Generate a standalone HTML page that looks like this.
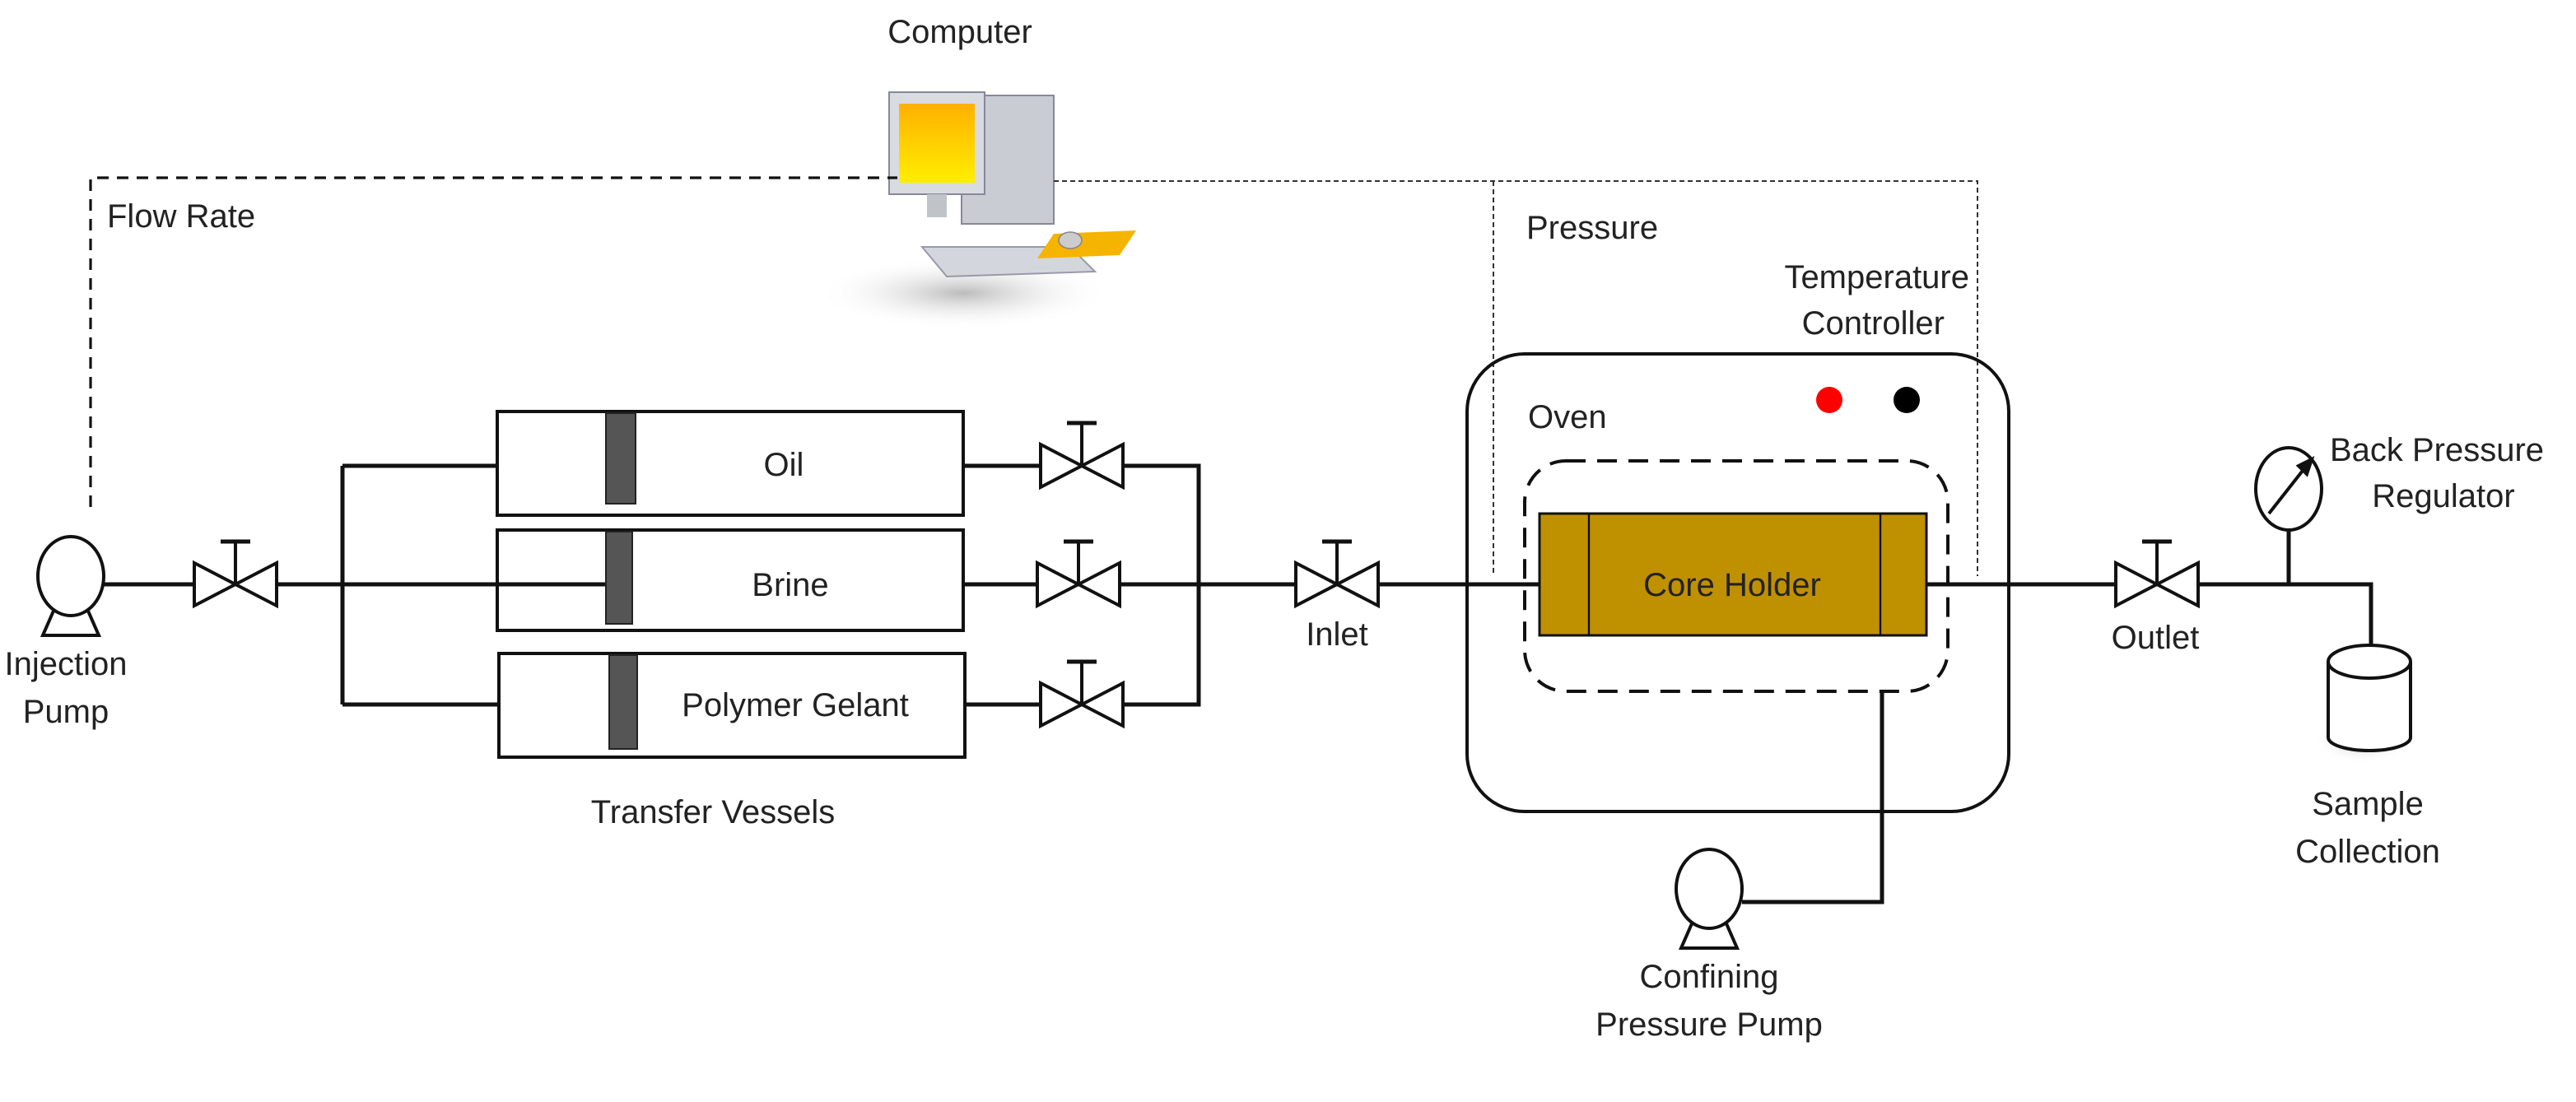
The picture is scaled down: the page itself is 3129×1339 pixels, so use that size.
<!DOCTYPE html>
<html><head><meta charset="utf-8"><style>
html,body{margin:0;padding:0;background:#fff;}
svg{display:block;}
text{font-family:"Liberation Sans",sans-serif;font-size:20px;fill:#222;}
</style></head><body>
<svg width="3129" height="1339" viewBox="0 0 1564.5 669.5" xmlns="http://www.w3.org/2000/svg">
<defs>
<radialGradient id="sh" cx="50%" cy="50%" r="50%"><stop offset="0" stop-color="#bbb"/><stop offset="1" stop-color="#fff" stop-opacity="0"/></radialGradient>
<linearGradient id="scr" x1="0" y1="0" x2="0" y2="1"><stop offset="0" stop-color="#ffb000"/><stop offset="1" stop-color="#ffee00"/></linearGradient>
<g id="valve"><path d="M-25,-13 L25,13 L25,-13 L-25,13 Z" fill="#fff" stroke="#111" stroke-width="2"/><line x1="0" y1="0" x2="0" y2="-26" stroke="#111" stroke-width="2"/><line x1="-9" y1="-26" x2="9" y2="-26" stroke="#111" stroke-width="2.5"/></g>
<g id="pump"><path d="M-17,36 L-10,20 L10,20 L17,36 Z" fill="#fff" stroke="#111" stroke-width="2"/><ellipse cx="0" cy="0" rx="20" ry="24" fill="#fff" stroke="#111" stroke-width="2"/></g>
</defs>

<ellipse cx="585" cy="178" rx="90" ry="22" fill="url(#sh)"/>
<rect x="584" y="58" width="56" height="78" fill="#c9ccd3" stroke="#889" stroke-width="1"/>
<rect x="540" y="56" width="58" height="62" fill="#d8dbe0" stroke="#889" stroke-width="1"/>
<rect x="546" y="63" width="46" height="48" fill="url(#scr)"/>
<rect x="563" y="118" width="12" height="14" fill="#c0c3c8"/>
<path d="M560,150 L650,150 L665,165 L575,168 Z" fill="#d3d6dc" stroke="#99a" stroke-width="1"/>
<path d="M640,142 L690,140 L680,155 L630,157 Z" fill="#f5b400"/>
<ellipse cx="650" cy="146" rx="7" ry="5" fill="#ccc" stroke="#888" stroke-width="0.8"/>
<text x="583" y="26" text-anchor="middle">Computer</text>

<path d="M55,308 L55,108 L545,108" fill="none" stroke="#111" stroke-width="1.6" stroke-dasharray="7,5"/>
<path d="M640,110 L1201,110 L1201,350 M907,110 L907,350" fill="none" stroke="#333" stroke-width="1" stroke-dasharray="3,2"/>
<text x="65" y="138">Flow Rate</text>
<text x="927" y="145">Pressure</text>
<text x="1196" y="175" text-anchor="end">Temperature</text>
<text x="1181" y="203" text-anchor="end">Controller</text>

<rect x="891" y="215" width="329" height="278" rx="35" fill="none" stroke="#111" stroke-width="2"/>
<circle cx="1111" cy="243" r="8" fill="#f00"/><circle cx="1158" cy="243" r="8" fill="#000"/>
<text x="928" y="260">Oven</text>

<path d="M63,355 L1440,355 L1440,392" fill="none" stroke="#111" stroke-width="2.5"/>
<path d="M1390,322 L1390,355" stroke="#111" stroke-width="2.5"/>
<rect x="926" y="280" width="257" height="140" rx="25" fill="none" stroke="#111" stroke-width="2" stroke-dasharray="12,7"/>
<rect x="935" y="312" width="235" height="74" fill="#bf9000" stroke="#111" stroke-width="1.5"/>
<line x1="965" y1="312" x2="965" y2="386" stroke="#111" stroke-width="1.2"/>
<line x1="1142" y1="312" x2="1142" y2="386" stroke="#111" stroke-width="1.2"/>
<text x="1052" y="362" text-anchor="middle">Core Holder</text>

<path d="M1143,420 L1143,548 L1058,548" fill="none" stroke="#111" stroke-width="2.5"/>
<use href="#pump" x="1038" y="540"/>
<text x="1038" y="600" text-anchor="middle">Confining</text>
<text x="1038" y="629" text-anchor="middle">Pressure Pump</text>

<path d="M208,283 L208,428 M208,283 L370,283 M208,428 L372,428 M585,283 L728,283 L728,428 L586,428 M585,355 L728,355" fill="none" stroke="#111" stroke-width="2.5"/>
<rect x="302" y="250" width="283" height="63" fill="#fff" stroke="#111" stroke-width="2"/>
<rect x="302" y="322" width="283" height="61" fill="#fff" stroke="#111" stroke-width="2"/>
<rect x="303" y="397" width="283" height="63" fill="#fff" stroke="#111" stroke-width="2"/>
<path d="M208,355 L370,355" stroke="#111" stroke-width="2.5"/>
<rect x="368" y="251" width="18" height="55" fill="#555" stroke="#222" stroke-width="1"/>
<rect x="368" y="323" width="16" height="56" fill="#555" stroke="#222" stroke-width="1"/>
<rect x="370" y="398" width="17" height="57" fill="#555" stroke="#222" stroke-width="1"/>
<text x="476" y="289" text-anchor="middle">Oil</text>
<text x="480" y="362" text-anchor="middle">Brine</text>
<text x="483" y="435" text-anchor="middle">Polymer Gelant</text>
<text x="433" y="500" text-anchor="middle">Transfer Vessels</text>

<use href="#valve" x="657" y="283"/>
<use href="#valve" x="655" y="355"/>
<use href="#valve" x="657" y="428"/>
<use href="#valve" x="143" y="355"/>
<use href="#valve" x="812" y="355"/>
<use href="#valve" x="1310" y="355"/>
<text x="812" y="392" text-anchor="middle">Inlet</text>
<text x="1309" y="394" text-anchor="middle">Outlet</text>

<use href="#pump" x="43" y="350"/>
<text x="40" y="410" text-anchor="middle">Injection</text>
<text x="40" y="439" text-anchor="middle">Pump</text>

<ellipse cx="1390" cy="297" rx="20" ry="25" fill="#fff" stroke="#111" stroke-width="2"/>
<line x1="1378" y1="312" x2="1400" y2="284" stroke="#111" stroke-width="2"/>
<path d="M1404,279 L1396,283 L1401,288 Z" fill="#111" stroke="#111" stroke-width="2"/>
<text x="1480" y="280" text-anchor="middle">Back  Pressure</text>
<text x="1484" y="308" text-anchor="middle">Regulator</text>

<ellipse cx="1435" cy="450" rx="30" ry="14" fill="url(#sh)"/>
<path d="M1414,402 L1414,448 A25,8 0 0 0 1464,448 L1464,402" fill="#fff" stroke="#111" stroke-width="2"/>
<ellipse cx="1439" cy="402" rx="25" ry="10" fill="#fff" stroke="#111" stroke-width="2"/>
<text x="1438" y="495" text-anchor="middle">Sample</text>
<text x="1438" y="524" text-anchor="middle">Collection</text>
</svg>
</body></html>
